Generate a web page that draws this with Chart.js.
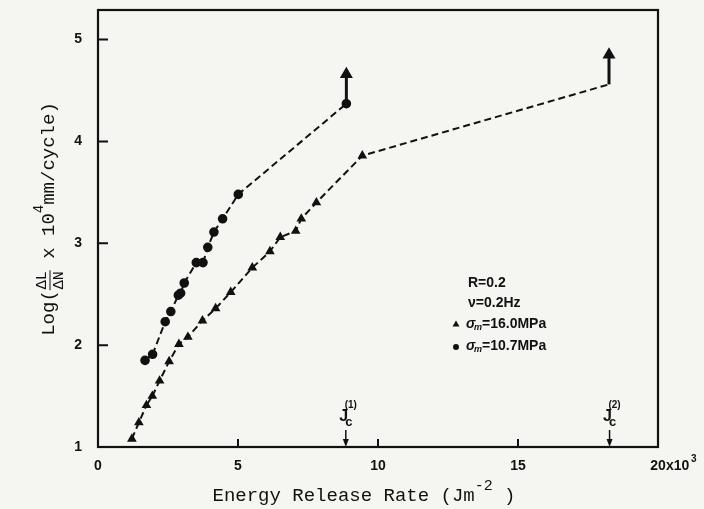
<!DOCTYPE html>
<html>
<head>
<meta charset="utf-8">
<script src="https://cdn.jsdelivr.net/npm/chart.js@4"></script>
<style>
  html, body { margin: 0; background: #f5f5f2; }
  #wrap { width: 704px; height: 509px; }
</style>
</head>
<body>
<div id="wrap"><canvas id="crackChart"></canvas></div>
<script>
// sigma_m = 16.0 MPa (triangles)
let triX = [1.21, 1.46, 1.73, 1.94, 2.20, 2.54, 2.89, 3.21, 3.73, 4.20, 4.74, 5.51, 6.14, 6.51, 7.06, 7.26, 7.80, 9.44, 18.25];
let triY = [1.08, 1.24, 1.41, 1.50, 1.65, 1.84, 2.01, 2.08, 2.24, 2.36, 2.52, 2.76, 2.92, 3.06, 3.12, 3.24, 3.40, 3.86, 4.56];
// sigma_m = 10.7 MPa (circles)
let circX = [1.68, 1.95, 2.40, 2.60, 2.87, 2.95, 3.08, 3.51, 3.75, 3.92, 4.14, 4.45, 5.01, 8.87];
let circY = [1.85, 1.91, 2.23, 2.33, 2.49, 2.51, 2.61, 2.81, 2.81, 2.96, 3.11, 3.24, 3.48, 4.37];
// arrows going up at the end of each curve: [x, from, to]
let arrowUp = [[8.87, 4.38, 4.66], [18.25, 4.56, 4.85]];
let xTicks = [0, 5, 10, 15, 20];
let yTicks = [1, 2, 3, 4, 5];
let jcX = [8.85, 18.27];
let jcNames = ['(1)', '(2)'];

const pts = (xs, ys) => xs.map((x, i) => ({x: x, y: ys[i]}));
// short segments look solid in the original
const dashSeg = ctx => {
  let dx = ctx.p1.x - ctx.p0.x, dy = ctx.p1.y - ctx.p0.y;
  return Math.sqrt(dx * dx + dy * dy) < 11 ? [] : [7, 4];
};

let arrowSets = arrowUp.map(a => ({
  data: [{x: a[0], y: a[1]}, {x: a[0], y: a[2]}],
  borderColor: '#111',
  backgroundColor: '#111',
  borderWidth: 3,
  pointStyle: 'triangle',
  pointRadius: [0, 4.5],
  showLine: true
}));

const paper = {
  id: 'paper',
  beforeDraw(chart) {
    let c = chart.ctx;
    c.save();
    c.fillStyle = '#f5f5f2';
    c.fillRect(0, 0, chart.width, chart.height);
    c.restore();
  },
  afterDraw(chart) {
    let c = chart.ctx, a = chart.chartArea;
    let xs = chart.scales.x, ys = chart.scales.y;
    c.save();
    c.strokeStyle = '#111';
    c.fillStyle = '#111';
    c.lineWidth = 2.2;
    c.strokeRect(a.left, a.top, a.right - a.left, a.bottom - a.top);

    // inward ticks
    c.lineWidth = 2;
    c.beginPath();
    xTicks.forEach(v => {
      let px = xs.getPixelForValue(v);
      c.moveTo(px, a.bottom); c.lineTo(px, a.bottom - 8);
    });
    yTicks.forEach(v => {
      let py = ys.getPixelForValue(v);
      c.moveTo(a.left, py); c.lineTo(a.left + 10, py);
    });
    c.stroke();

    // "x10^3" after the last x tick label
    c.font = 'bold 14px "Liberation Sans"';
    c.textBaseline = 'alphabetic';
    c.textAlign = 'left';
    let px20 = xs.getPixelForValue(20);
    c.fillText('x10', px20 + 8, 470);
    c.font = 'bold 10px "Liberation Sans"';
    c.fillText('3', px20 + 33, 462);

    // J_c markers
    jcX.forEach((v, i) => {
      let px = xs.getPixelForValue(v);
      c.lineWidth = 1.5;
      c.beginPath();
      c.moveTo(px, a.bottom - 17); c.lineTo(px, a.bottom - 4);
      c.stroke();
      c.beginPath();
      c.moveTo(px - 3, a.bottom - 8); c.lineTo(px + 3, a.bottom - 8); c.lineTo(px, a.bottom);
      c.closePath(); c.fill();
      c.textAlign = 'center';
      c.font = 'bold 16px "Liberation Sans"';
      c.fillText('J', px - 2, 421);
      c.font = 'bold 13px "Liberation Sans"';
      c.fillText('c', px + 3, 426);
      c.font = 'bold 10px "Liberation Sans"';
      c.fillText(jcNames[i], px + 5, 408);
    });

    // axis titles
    let big = '19px "Liberation Mono"';
    c.textAlign = 'left';
    c.font = big;
    let t1 = 'Energy Release Rate (Jm', t2 = ' )';
    let w1 = c.measureText(t1).width, w2 = c.measureText(t2).width;
    c.font = '15px "Liberation Mono"';
    let ws = c.measureText('-2').width;
    let x0 = 364 - (w1 + ws + w2) / 2;
    c.font = big; c.fillText(t1, x0, 501);
    c.font = '15px "Liberation Mono"'; c.fillText('-2', x0 + w1, 490);
    c.font = big; c.fillText(t2, x0 + w1 + ws, 501);

    c.translate(47, 219);
    c.rotate(-Math.PI / 2);
    let frac = '15px "Liberation Mono"', sup = '14px "Liberation Mono"';
    c.font = big; let a1 = c.measureText('Log(').width;
    c.font = frac; let af = c.measureText('ΔL').width + 2;
    c.font = big; let a2 = c.measureText(' x 10').width;
    c.font = sup; let a3 = c.measureText('4').width;
    c.font = big; let a4 = c.measureText('mm/cycle)').width;
    let x = -(a1 + af + a2 + a3 + a4) / 2, base = 7;
    c.font = big; c.fillText('Log(', x, base); x += a1;
    c.font = frac; c.textAlign = 'center';
    c.fillText('ΔL', x + af / 2, base - 8);
    c.fillText('ΔN', x + af / 2, base + 9);
    c.lineWidth = 1;
    c.beginPath(); c.moveTo(x, base - 4); c.lineTo(x + af, base - 4); c.stroke();
    x += af;
    c.textAlign = 'left';
    c.font = big; c.fillText(' x 10', x, base); x += a2;
    c.font = sup; c.fillText('4', x, base - 11); x += a3;
    c.font = big; c.fillText('mm/cycle)', x, base);
    c.restore();

    // legend block
    c.save();
    c.fillStyle = '#111';
    c.textBaseline = 'middle';
    c.font = 'bold 14px "Liberation Sans"';
    c.fillText('R=0.2', 468, 283);
    c.fillText('ν=0.2Hz', 468, 303);
    let rows = [['16.0MPa', 324, 'tri'], ['10.7MPa', 346, 'dot']];
    rows.forEach(r => {
      if (r[2] === 'tri') {
        c.beginPath(); c.moveTo(456, r[1] - 3.5); c.lineTo(459.5, r[1] + 2.5); c.lineTo(452.5, r[1] + 2.5); c.closePath(); c.fill();
      } else {
        c.beginPath(); c.arc(456, r[1] + 1, 3, 0, Math.PI * 2); c.fill();
      }
      c.font = 'italic bold 14px "Liberation Sans"';
      c.fillText('σ', 466, r[1]);
      c.font = 'italic bold 9px "Liberation Sans"';
      c.fillText('m', 474, r[1] + 4);
      c.font = 'bold 14px "Liberation Sans"';
      c.fillText('=' + r[0], 482, r[1]);
    });
    c.restore();
  }
};

new Chart(document.getElementById('crackChart'), {
  type: 'scatter',
  data: {
    datasets: [{
      label: 'σm=16.0MPa',
      data: pts(triX, triY),
      showLine: true,
      borderColor: '#111',
      backgroundColor: '#111',
      borderWidth: 2,
      borderDash: [7, 4],
      segment: { borderDash: dashSeg },
      pointStyle: 'triangle',
      pointRadius: ctx => ctx.dataIndex === triX.length - 1 ? 0 : 3.6
    }, {
      label: 'σm=10.7MPa',
      data: pts(circX, circY),
      showLine: true,
      borderColor: '#111',
      backgroundColor: '#111',
      borderWidth: 2,
      borderDash: [7, 4],
      segment: { borderDash: dashSeg },
      pointStyle: 'circle',
      pointRadius: 3.8
    }].concat(arrowSets)
  },
  options: {
    responsive: true,
    maintainAspectRatio: false,
    animation: false,
    layout: { padding: { left: 0, right: 46, top: 10, bottom: 0 } },
    plugins: { legend: { display: false }, tooltip: { enabled: false } },
    scales: {
      x: {
        type: 'linear',
        min: 0,
        max: 20,
        afterFit: s => { s.height = 62; s.paddingLeft = 0; s.paddingRight = 0; },
        afterBuildTicks: s => { s.ticks = xTicks.map(v => ({value: v})); },
        grid: { display: false },
        border: { display: false },
        ticks: {
          color: '#111',
          padding: 3,
          font: { family: 'Liberation Sans', size: 14, weight: 'bold' },
          callback: v => v
        }
      },
      y: {
        type: 'linear',
        min: 1,
        max: 5.29,
        afterFit: s => { s.width = 98; s.paddingTop = 0; s.paddingBottom = 0; },
        afterBuildTicks: s => { s.ticks = yTicks.map(v => ({value: v})); },
        grid: { display: false },
        border: { display: false },
        ticks: {
          color: '#111',
          padding: 8,
          font: { family: 'Liberation Sans', size: 14, weight: 'bold' }
        }
      }
    }
  },
  plugins: [paper]
});
</script>
</body>
</html>
